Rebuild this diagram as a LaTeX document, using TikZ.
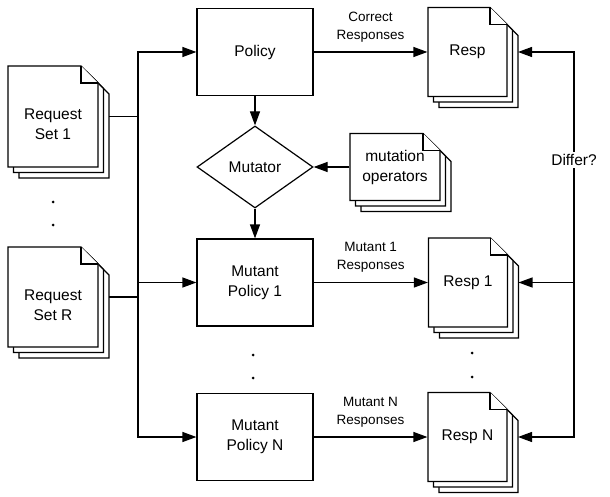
\documentclass[tikz,border=0pt]{standalone}
\usepackage{fontspec}
\setmainfont{Liberation Sans}
\usepackage{tikz}
\usetikzlibrary{arrows.meta,shapes.geometric,calc}
\newcommand{\nodefont}{\fontsize{15.5}{20}\selectfont}
\newcommand{\lblfont}{\fontsize{13.5}{18}\selectfont}
% stack of three pages with a folded corner: name, cx, cy, w, h, text shift, text
\newcommand{\docstack}[7]{%
  \foreach \o in {11,5.5,0}{%
    \draw[page] ({#2-#4/2+\o},{#3-#5/2+\o}) -- ({#2+#4/2-17+\o},{#3-#5/2+\o})
      -- ({#2+#4/2+\o},{#3-#5/2+17+\o}) -- ({#2+#4/2+\o},{#3+#5/2+\o})
      -- ({#2-#4/2+\o},{#3+#5/2+\o}) -- cycle;
  }
  \draw[page] ({#2+#4/2-17},{#3-#5/2}) -- ({#2+#4/2-17},{#3-#5/2+17})
    -- ({#2+#4/2},{#3-#5/2+17});
  \coordinate (#1-r) at ({#2+#4/2+11},#3);
  \node[inner sep=0,minimum width=#4,minimum height=#5,align=center,font=\nodefont]
    (#1) at (#2,{#3+#6}) {#7};
}

\begin{document}
\begin{tikzpicture}[x=1pt,y=-1pt,line width=1.2pt,
  >={Triangle[length=14pt,width=10pt]},
  box/.style={draw,inner sep=0,minimum width=116pt,minimum height=87pt,align=center,font=\nodefont},
  page/.style={draw,fill=white,line join=miter},
  lbl/.style={align=center,font=\lblfont}]
  \useasboundingbox (0,0) rectangle (610,497);

  \docstack{req1}{53}{116.5}{90}{101}{8}{Request\\Set 1}
  \docstack{reqR}{53}{297}{90}{100}{8}{Request\\Set R}
  \docstack{ops}{395}{167}{90}{67}{0}{mutation\\operators}
  \docstack{resp}{467.5}{52}{79}{89}{0}{Resp}
  \docstack{resp1}{468}{282.5}{79}{89}{0}{Resp 1}
  \docstack{respN}{467.5}{437}{79}{89}{0}{Resp N}

  \node[box] (policy) at (255,52) {Policy};
  \node[draw,diamond,aspect=1.4,inner sep=0,minimum width=116pt,minimum height=82pt,font=\nodefont]
    (mutator) at (255,167) {Mutator};
  \node[box] (mp1) at (255,282.5) {Mutant\\Policy 1};
  \node[box] (mpN) at (255,437) {Mutant\\Policy N};

  \coordinate (reqbus) at (138,0);
  \coordinate (diffbus) at (574,0);

  % requests into the policies
  \draw (req1-r) -- (req1-r -| reqbus);
  \draw (reqR-r) -- (reqR-r -| reqbus);
  \draw[->] (reqbus |- mp1.west) |- (policy.west);
  \draw[->] (reqbus |- mp1.west) |- (mpN.west);
  \draw[->] (reqbus |- mp1.west) -- (mp1.west);

  \draw[->] (policy.south) -- (mutator.north);
  \draw[->] (ops.west) -- (mutator.east);
  \draw[->] (mutator.south) -- (mp1.north);

  \draw[->] (policy.east) -- node[lbl,above=6pt] {Correct\\Responses} (resp.west);
  \draw[->] (mp1.east) -- node[lbl,above=6pt] {Mutant 1\\Responses} (resp1.west);
  \draw[->] (mpN.east) -- node[lbl,above=6pt] {Mutant N\\Responses} (respN.west);

  % comparison of the responses
  \draw[->] (diffbus |- resp1-r) |- (resp-r);
  \draw[->] (diffbus |- resp1-r) |- (respN-r);
  \draw[->] (diffbus |- resp1-r) -- (resp1-r);
  \node[fill=white,inner sep=2pt,font=\nodefont] (differ) at (574,160) {Differ?};

  \foreach \p in {(53,202),(53,225),(253,355),(253,378),(472,353),(472,377)}
    \fill \p circle (1.5);
\end{tikzpicture}
\end{document}
